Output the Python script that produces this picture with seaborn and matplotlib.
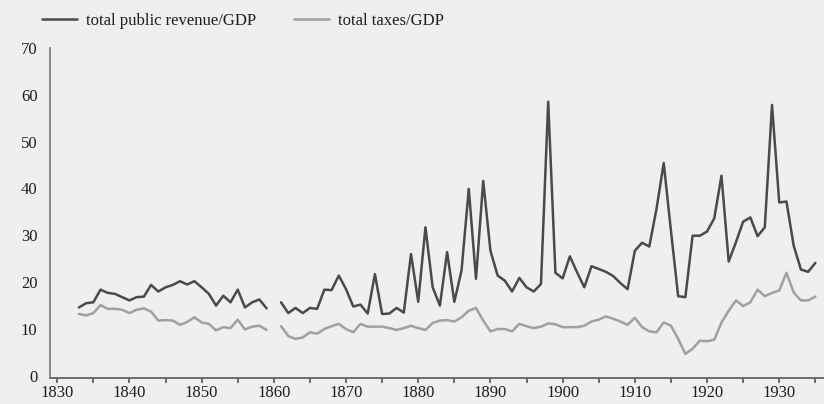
import numpy as np
import pandas as pd
import matplotlib
matplotlib.use("Agg")
import matplotlib.pyplot as plt
import seaborn as sns
from matplotlib.lines import Line2D

# ---- data ----
years_a = list(range(1833, 1860))
revenue_a = [14.6, 15.5, 15.7, 18.4, 17.7, 17.5, 16.8, 16.1, 16.8, 16.9,
             19.4, 18.0, 18.9, 19.4, 20.2, 19.5, 20.2, 18.9, 17.5, 15.0,
             17.1, 15.7, 18.4, 14.6, 15.7, 16.3, 14.4]
taxes_a = [13.2, 12.9, 13.4, 15.1, 14.3, 14.3, 14.1, 13.4, 14.1, 14.4,
           13.7, 11.8, 11.9, 11.8, 10.9, 11.5, 12.5, 11.4, 11.1, 9.7,
           10.4, 10.2, 12.0, 9.9, 10.5, 10.7, 9.8]

years_b = list(range(1861, 1936))
revenue_b = [15.7, 13.4, 14.5, 13.4, 14.5, 14.3, 18.4, 18.3, 21.4, 18.5,
             14.8, 15.2, 13.3, 21.7, 13.2, 13.3, 14.5, 13.5, 26.0, 15.8,
             31.7, 18.9, 15.0, 26.4, 15.8, 22.5, 39.9, 20.7, 41.6, 26.7,
             21.4, 20.3, 18.0, 20.9, 18.9, 18.0, 19.6, 58.5, 22.0, 20.8,
             25.5, 22.1, 18.9, 23.4, 22.8, 22.2, 21.3, 19.8, 18.5, 26.7,
             28.4, 27.6, 35.6, 45.4, 31.0, 17.0, 16.8, 29.9, 29.9, 30.8,
             33.6, 42.7, 24.4, 28.5, 32.9, 33.8, 29.8, 31.7, 57.8, 37.0,
             37.2, 27.8, 22.7, 22.2, 24.1]
taxes_b = [10.6, 8.5, 7.9, 8.2, 9.3, 9.0, 10.0, 10.6, 11.1, 10.0,
           9.3, 11.1, 10.5, 10.5, 10.5, 10.2, 9.8, 10.2, 10.7, 10.2,
           9.8, 11.3, 11.8, 11.9, 11.6, 12.5, 13.9, 14.5, 11.8, 9.5,
           10.0, 10.0, 9.5, 11.1, 10.6, 10.2, 10.5, 11.2, 11.0, 10.4,
           10.4, 10.4, 10.7, 11.6, 12.0, 12.7, 12.2, 11.6, 10.9, 12.4,
           10.4, 9.5, 9.3, 11.4, 10.7, 7.9, 4.7, 5.8, 7.5, 7.4,
           7.7, 11.4, 13.9, 16.1, 14.9, 15.7, 18.4, 17.0, 17.7, 18.2,
           22.0, 17.8, 16.1, 16.1, 16.9]

series_names = ["total public revenue/GDP", "total taxes/GDP"]
y_ticks = [0, 10, 20, 30, 40, 50, 60, 70]
x_ticks = list(range(1830, 1940, 5))

rows = []
for seg, (yrs, rev, tax) in enumerate([(years_a, revenue_a, taxes_a),
                                       (years_b, revenue_b, taxes_b)]):
    for y, r, t in zip(yrs, rev, tax):
        rows.append({"year": y, "value": r, "series": series_names[0], "seg": seg})
        rows.append({"year": y, "value": t, "series": series_names[1], "seg": seg})
df = pd.DataFrame(rows)

# ---- style ----
sns.set_theme(style="ticks")
plt.rcParams["font.family"] = ["Liberation Serif", "DejaVu Serif"]
bg = "#efefef"
txt = "#1e1e1e"

fig = plt.figure(figsize=(8.24, 4.04), dpi=100, facecolor=bg)
ax = fig.add_axes([50 / 824, 26 / 404, 774 / 824, 334 / 404])
ax.set_facecolor(bg)

palette = {series_names[0]: "#4a4a4a", series_names[1]: "#a0a0a0"}
sns.lineplot(data=df, x="year", y="value", hue="series", units="seg",
             estimator=None, palette=palette, linewidth=1.8, ax=ax,
             legend=False, sort=True)

ax.set_xlim(1829.0, 1936.2)
ax.set_ylim(-0.45, 70.8)
ax.set_xlabel("")
ax.set_ylabel("")

ax.set_yticks(y_ticks)
ax.set_yticklabels([str(v) for v in y_ticks], fontsize=12, color=txt)
ax.tick_params(axis="y", length=0, pad=9)

ax.set_xticks(x_ticks)
ax.set_xticklabels([str(v) if v % 10 == 0 else "" for v in x_ticks],
                   fontsize=12, color=txt)
ax.tick_params(axis="x", length=3.5, width=1.2, color="#555555", pad=1.5,
               direction="out")

for s in ["top", "right"]:
    ax.spines[s].set_visible(False)
ax.spines["left"].set_bounds(0, 70)
ax.spines["left"].set_color("#777777")
ax.spines["left"].set_linewidth(1.2)
ax.spines["bottom"].set_color("#555555")
ax.spines["bottom"].set_linewidth(1.2)

handles = [Line2D([], [], color=palette[n], linewidth=1.8) for n in series_names]
fig.legend(handles, series_names, loc="upper left",
           bbox_to_anchor=(27 / 824, 1 + 2 / 404), ncol=2, frameon=False,
           fontsize=12, handlelength=2.1, handletextpad=0.55,
           columnspacing=2.25, labelcolor=txt)

fig.savefig("out.png", dpi=100, facecolor=bg)
